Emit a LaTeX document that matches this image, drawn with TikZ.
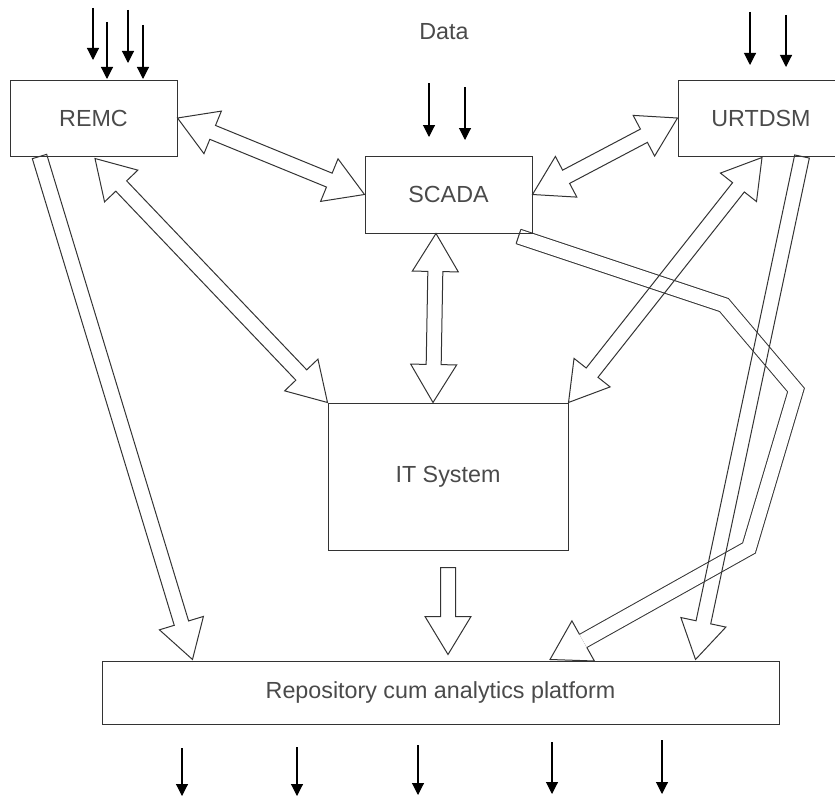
\documentclass[tikz,border=0pt]{standalone}
\usepackage{fontspec}
\setmainfont{Liberation Sans}
\usetikzlibrary{calc,arrows.meta,backgrounds}
\definecolor{lc}{HTML}{333333}
\definecolor{tc}{HTML}{4A4A4A}
\newcommand\frameAB[2]{%
  \path let \p1=(#1), \p2=(#2) in \pgfextra{%
    \pgfmathsetmacro\tmpA{atan2(\y2-\y1,\x2-\x1)}%
    \pgfmathsetmacro\tmpL{veclen(\x2-\x1,\y2-\y1)}%
    \xdef\fA{\tmpA}\xdef\fL{\tmpL}};%
}
\newcommand\dblblock[2]{\frameAB{#1}{#2}%
  \begin{scope}[shift={(#1)},rotate=\fA]
    \draw[blk] (0,0) -- (38,23) -- (38,7.5) -- (\fL-38,7.5) -- (\fL-38,23) -- (\fL,0)
      -- (\fL-38,-23) -- (\fL-38,-7.5) -- (38,-7.5) -- (38,-23) -- cycle;
  \end{scope}}
\newcommand\sglblock[2]{\frameAB{#1}{#2}%
  \begin{scope}[shift={(#1)},rotate=\fA]
    \draw[blk] (0,7.5) -- (\fL-38,7.5) -- (\fL-38,23) -- (\fL,0)
      -- (\fL-38,-23) -- (\fL-38,-7.5) -- (0,-7.5) -- cycle;
  \end{scope}}
\newcommand\headblock[2]{\frameAB{#1}{#2}%
  \begin{scope}[shift={(#1)},rotate=\fA]
    \draw[blk] (\fL-38,7.5) -- (\fL-38,23) -- (\fL,0) -- (\fL-38,-23) -- (\fL-38,-7.5);
  \end{scope}}
\newcommand\tailcap[2]{\frameAB{#1}{#2}%
  \begin{scope}[shift={(#1)},rotate=\fA]
    \draw[blk] (0,7.5) -- (0,-7.5);
  \end{scope}}
\begin{document}
\begin{tikzpicture}[x=1pt,y=-1pt,
  box/.style={draw=lc, line width=1pt, inner sep=0pt, text=tc,
    font=\fontsize{23.3}{28}\selectfont},
  blk/.style={draw=lc, line width=1pt, line join=miter},
  inarr/.style={draw=black, line width=1.1pt, -{Triangle[length=12pt,width=12pt]}}]
\useasboundingbox (0,0) rectangle (835,800);
\clip (0,0) rectangle (835,800);

% boxes
\node[box, minimum width=167pt, minimum height=76pt] (REMC) at (93.5,118) {REMC};
\node[box, minimum width=166pt, minimum height=76pt] (URTDSM) at (761,118) {URTDSM};
\node[box, minimum width=167pt, minimum height=77pt] (SCADA) at (448.5,194.5) {SCADA};
\node[box, minimum width=240pt, minimum height=147pt] (IT) at (448,476.5) {IT System};
\node[box, minimum width=677pt, minimum height=63pt] (REPO) at (440.5,692.5) {Repository cum analytics platform};
\node[text=tc, font=\fontsize{23.3}{28}\selectfont, inner sep=0pt] (data) at (444,32) {Data};

% bent arrow SCADA -> repository
\coordinate (b0) at ($(SCADA.south east)+(-14,3)$);
\coordinate (b1) at (724,305);
\coordinate (b2) at (796,390);
\coordinate (b3) at (749,548);
\coordinate (btip) at ($(REPO.north)+(109.5,-1)$);
\coordinate (bhb) at ($(btip)!38pt!(b3)$);
\begin{pgfonlayer}{background}
\draw[lc, line width=1pt, double=white, double distance=14pt, line join=miter]
  (b0) -- (b1) -- (b2) -- (b3) -- (bhb);
\end{pgfonlayer}
\headblock{b3}{btip}
\tailcap{b0}{b1}

% double block arrows
\dblblock{REMC.east}{SCADA.west}
\dblblock{SCADA.east}{URTDSM.west}
\coordinate (r1) at ($(REMC.south)+(1.5,2)$);
\dblblock{r1}{IT.north west}
\coordinate (u1) at ($(URTDSM.south)+(1,1)$);
\dblblock{u1}{IT.north east}
\coordinate (s1) at ($(SCADA.south)+(-12.5,0)$);
\coordinate (i1) at ($(IT.north)+(-15,0)$);
\dblblock{s1}{i1}

% single block arrows
\coordinate (i2) at ($(IT.south)+(0,17)$);
\coordinate (q1) at ($(IT.south)+(0,104)$);
\sglblock{i2}{q1}
\coordinate (r2) at ($(REMC.south west)+(30,0)$);
\coordinate (q2) at ($(REPO.north west)+(91,-1)$);
\sglblock{r2}{q2}
\coordinate (u2) at ($(URTDSM.south)+(41,0)$);
\coordinate (q3) at ($(REPO.north east)+(-84,-1)$);
\sglblock{u2}{q3}

% small data arrows
\foreach \k/\xx/\ya/\yb in {a/93/8/60, b/107/22/79, c/128/10/63, d/143/25/79,
  e/429/83/137, f/465/87/140, g/750/12/65, h/786/15/67,
  i/182/748/796, j/297/747/796, k/418/745/795, l/552/742/794, m/662/740/794}{
  \coordinate (s\k) at (\xx,\ya);
  \coordinate (e\k) at (\xx,\yb);
  \draw[inarr] (s\k) -- (e\k);
}
\end{tikzpicture}
\end{document}
